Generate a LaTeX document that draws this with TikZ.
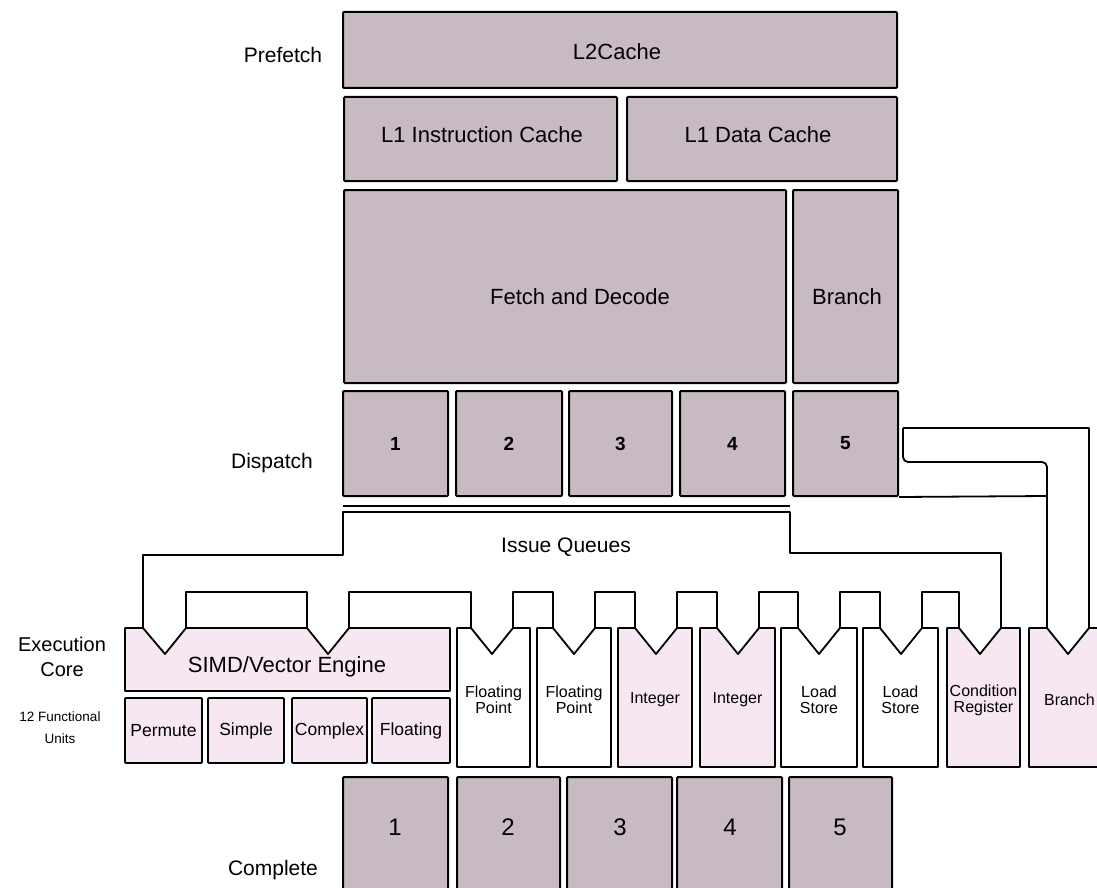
\documentclass[tikz,border=0pt]{standalone}
\usepackage{fontspec}
\setmainfont{Liberation Sans}
\definecolor{mauve}{HTML}{C8BAC2}
\definecolor{lpink}{HTML}{F7E7F3}
\newcommand{\fsz}[2]{\fontsize{#1}{#2}\selectfont}
\newcommand{\bx}[7]{%
  \node[#1, minimum width={#5-#3}, minimum height={#6-#4}] (#2) at ({(#3+#5)/2},{(#4+#6)/2}) {#7};}
\newcommand{\eunit}[6]{%
  \draw[ln, fill=#4] (#1,628) -- ({#3-21},628) -- (#3,654) -- ({#3+21},628) -- (#2,628) -- (#2,767) -- (#1,767) -- cycle;
  \coordinate (#5L) at ({#3-21},628);
  \coordinate (#5R) at ({#3+21},628);
  \node[ulbl] (#5) at ({(#1+#2)/2},700) {#6};}
\begin{document}
\begin{tikzpicture}[x=1pt,y=-1pt,
  ln/.style={draw=black, line width=1.8pt, line join=round},
  box/.style={draw=black, line width=2pt, inner sep=0pt, rounded corners=1pt},
  grey/.style={box, fill=mauve, font=\fsz{22}{24}},
  pinkbox/.style={box, line width=1.8pt, fill=lpink, font=\fsz{17.5}{19}},
  lbl/.style={inner sep=0pt, align=center, text=black},
  ulbl/.style={lbl, font=\fsz{16}{16}},
  side/.style={lbl, font=\fsz{21}{24}}]
\useasboundingbox (0,0) rectangle (1097,888);
\clip (0,0) rectangle (1097,888);

% top caches
\bx{grey}{l2}{343}{12}{897}{88}{}
\node[lbl, font=\fsz{22}{24}] (l2t) at (617,52) {L2Cache};
\bx{grey}{l1i}{344}{97}{617}{181}{}
\node[lbl, font=\fsz{22}{24}] (l1it) at (482,135) {L1 Instruction Cache};
\bx{grey}{l1d}{627}{97}{897}{181}{}
\node[lbl, font=\fsz{22}{24}] (l1dt) at (758,135) {L1 Data Cache};
\bx{grey}{fd}{344}{190}{786}{383}{}
\node[lbl, font=\fsz{22}{24}] (fdt) at (580,297) {Fetch and Decode};
\bx{grey}{brt}{793}{190}{898}{383}{}
\node[lbl, font=\fsz{22}{24}] (brtt) at (847,297) {Branch};

% dispatch
\bx{grey,font=\fsz{19}{20}\bfseries}{d1}{343}{391}{448}{496}{1}
\bx{grey,font=\fsz{19}{20}\bfseries}{d2}{456}{391}{562}{496}{2}
\bx{grey,font=\fsz{19}{20}\bfseries}{d3}{569}{391}{672}{496}{3}
\bx{grey,font=\fsz{19}{20}\bfseries}{d4}{680}{391}{785}{496}{4}
\bx{grey,font=\fsz{19}{20}\bfseries}{d5}{793}{391}{898}{496}{5}

% complete
\bx{grey}{c1}{343}{777}{448}{910}{}
\bx{grey}{c2}{457}{777}{560}{910}{}
\bx{grey}{c3}{567}{777}{672}{910}{}
\bx{grey}{c4}{677}{777}{782}{910}{}
\bx{grey}{c5}{789}{777}{892}{910}{}
\foreach \n/\x in {1/395,2/508,3/620,4/730,5/840}
  \node[lbl, font=\fsz{24}{24}] (cn\n) at (\x,827) {\n};

% SIMD engine
\draw[ln, fill=lpink] (125,628) -- (143,628) -- (165,654) -- (186,628) -- (307,628) -- (328,654) -- (349,628) -- (450,628) -- (450,691) -- (125,691) -- cycle;
\coordinate (simdAL) at (143,628);
\coordinate (simdAR) at (186,628);
\coordinate (simdBL) at (307,628);
\coordinate (simdBR) at (349,628);
\node[lbl, font=\fsz{22}{24}] (simd) at (287,667) {SIMD/Vector Engine};
\bx{pinkbox}{perm}{125}{698}{202}{763}{Permute}
\bx{pinkbox}{simp}{208}{698}{284}{763}{Simple}
\bx{pinkbox}{cplx}{292}{698}{367}{763}{Complex}
\bx{pinkbox}{flt}{372}{698}{450}{763}{Floating}

% execution units
\eunit{457}{530}{492}{white}{fpa}{Floating\\Point}
\eunit{537}{611}{574}{white}{fpb}{Floating\\Point}
\eunit{618}{692}{656}{lpink}{inta}{Integer}
\eunit{700}{775}{738}{lpink}{intb}{Integer}
\eunit{781}{857}{819}{white}{lsa}{Load\\Store}
\eunit{863}{938}{901}{white}{lsb}{Load\\Store}
\eunit{947}{1020}{980}{lpink}{cr}{Condition\\Register}
\eunit{1029}{1110}{1068}{lpink}{brx}{Branch}

% bridges between issue slots
\coordinate (bry) at (0,592);
\foreach \a/\b in {simdAR/simdBL, simdBR/fpaL, fpaR/fpbL, fpbR/intaL, intaR/intbL, intbR/lsaL, lsaR/lsbL, lsbR/crL}
  \draw[ln] (\a) -- (\a |- bry) -| (\b);

% issue queue bracket
\coordinate (iqa) at (343,555);
\coordinate (iqb) at (343,512);
\coordinate (iqc) at (790,512);
\coordinate (iqd) at (790,553);
\draw[ln] (simdAL) |- (iqa) -- (iqb) -- (iqc) -- (iqd) -| (crR);
\coordinate (dla) at (343,506);
\coordinate (dlb) at (790,506);
\draw[ln] (dla) -- (dlb);
\node[lbl, font=\fsz{21}{24}] (iq) at (566,547) {Issue Queues};

% branch pipe
\coordinate (pa) at (903,428);
\coordinate (pb) at (903,462);
\coordinate (pc) at (1047,462);
\coordinate (pd) at (1047,496);
\draw[ln] (pa) -| (brxR);
\draw[ln, rounded corners=5pt] (pa) -- (pb) -- (pc) -- (brxL);
\draw[ln] (d5.south east) -- (pd);

% side labels
\node[side] (pf) at (283,55) {Prefetch};
\node[side] (dsp) at (272,463) {Dispatch};
\node[lbl, font=\fsz{20}{25}] (exc) at (62,657) {Execution\\Core};
\node[lbl, font=\fsz{13.5}{22}] (fu) at (60,728) {12 Functional\\Units};
\node[side] (cmp) at (273,870) {Complete};
\end{tikzpicture}
\end{document}
